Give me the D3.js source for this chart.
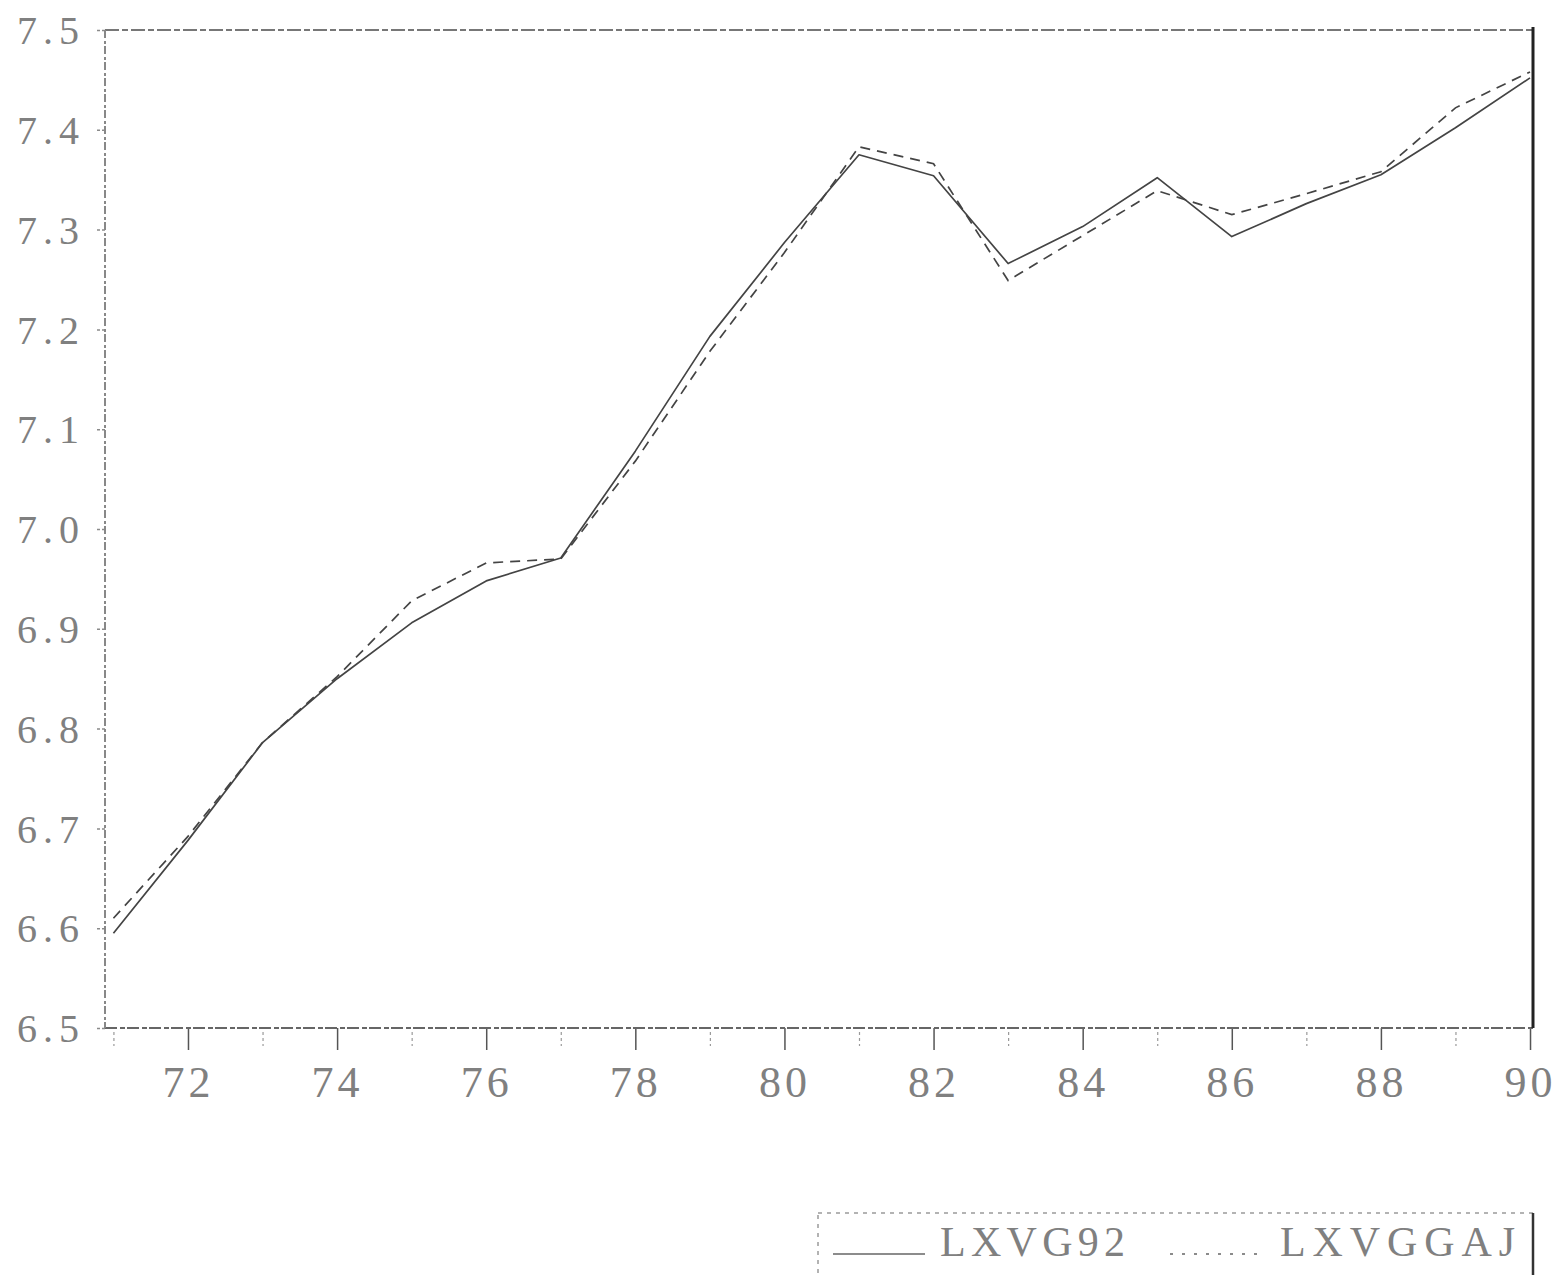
<!DOCTYPE html>
<html>
<head>
<meta charset="utf-8">
<script src="https://cdn.jsdelivr.net/npm/d3@7"></script>
<style>
  html, body { margin: 0; padding: 0; background: #fff; }
  svg { display: block; }
  text { font-family: "Liberation Serif", "DejaVu Serif", serif; fill: #808080; }
</style>
</head>
<body>
<svg id="chart" width="1560" height="1275"></svg>
<script>
// Annual observations, 1971-1990
const years = [1971, 1972, 1973, 1974, 1975, 1976, 1977, 1978, 1979, 1980,
               1981, 1982, 1983, 1984, 1985, 1986, 1987, 1988, 1989, 1990];

// LXVG92 (solid line)
const lxvg92 = [6.595, 6.688, 6.786, 6.850, 6.906, 6.948, 6.971, 7.078, 7.193, 7.287,
                7.375, 7.354, 7.266, 7.303, 7.352, 7.293, 7.326, 7.355, 7.402, 7.452];

// LXVGGAJ (dashed line)
const lxvggaj = [6.610, 6.692, 6.786, 6.852, 6.928, 6.966, 6.970, 7.068, 7.178, 7.277,
                 7.383, 7.366, 7.249, 7.294, 7.339, 7.315, 7.336, 7.358, 7.422, 7.458];

const seriesNames = ["LXVG92", "LXVGGAJ"];
const yTicks = [6.5, 6.6, 6.7, 6.8, 6.9, 7.0, 7.1, 7.2, 7.3, 7.4, 7.5];
const xMajorTicks = [1972, 1974, 1976, 1978, 1980, 1982, 1984, 1986, 1988, 1990];
const xMinorTicks = [1971, 1973, 1975, 1977, 1979, 1981, 1983, 1985, 1987, 1989];

const svg = d3.select("#chart");
const plot = { left: 105, right: 1533, top: 30, bottom: 1028 };

const x = d3.scaleLinear().domain([1970.887, 1990.04]).range([plot.left, plot.right]);
const y = d3.scaleLinear().domain([6.5, 7.5]).range([plot.bottom, plot.top]);

// Y axis: short outside ticks and labels
const yAxis = d3.axisLeft(y).tickValues(yTicks).tickSize(10).tickPadding(10)
  .tickFormat(d3.format(".1f"));
const gy = svg.append("g").attr("transform", `translate(${plot.left},0)`).call(yAxis);
gy.select(".domain").remove();
gy.selectAll(".tick line").attr("stroke", "#8a8a8a").attr("stroke-width", 1.5)
  .attr("stroke-dasharray", "3,2");
gy.selectAll(".tick text")
  .attr("font-size", 40).attr("fill", "#858585")
  .attr("font-family", "Liberation Serif, serif")
  .attr("letter-spacing", 6)
  .attr("dy", "0.34em");

// X axis: major ticks (labelled) and minor ticks
const xAxis = d3.axisBottom(x).tickValues(xMajorTicks).tickSize(22).tickPadding(16)
  .tickFormat(d => String(d % 100));
const gx = svg.append("g").attr("transform", `translate(0,${plot.bottom})`).call(xAxis);
gx.select(".domain").remove();
gx.selectAll(".tick line").attr("stroke", "#555").attr("stroke-width", 1.5);
gx.selectAll(".tick text")
  .attr("font-size", 44).attr("fill", "#858585")
  .attr("font-family", "Liberation Serif, serif")
  .attr("letter-spacing", 4);

const xMinor = d3.axisBottom(x).tickValues(xMinorTicks).tickSize(14).tickFormat("");
const gxm = svg.append("g").attr("transform", `translate(0,${plot.bottom + 4})`).call(xMinor);
gxm.select(".domain").remove();
gxm.selectAll(".tick line").attr("stroke", "#9a9a9a").attr("stroke-width", 1.2)
  .attr("stroke-dasharray", "3,3");

// Plot frame
const frame = svg.append("g");
frame.append("line").attr("x1", plot.left).attr("x2", plot.right)
  .attr("y1", plot.top).attr("y2", plot.top)
  .attr("stroke", "#777").attr("stroke-width", 2).attr("stroke-dasharray", "14,3,6,3");
frame.append("line").attr("x1", plot.left).attr("x2", plot.right)
  .attr("y1", plot.bottom).attr("y2", plot.bottom)
  .attr("stroke", "#666").attr("stroke-width", 2.2).attr("stroke-dasharray", "12,3,5,2");
frame.append("line").attr("x1", plot.left).attr("x2", plot.left)
  .attr("y1", plot.top).attr("y2", plot.bottom)
  .attr("stroke", "#888").attr("stroke-width", 2).attr("stroke-dasharray", "8,3,3,2");
frame.append("line").attr("x1", plot.right).attr("x2", plot.right)
  .attr("y1", plot.top - 3).attr("y2", plot.bottom)
  .attr("stroke", "#222").attr("stroke-width", 3);

// Series lines
const line = d3.line().x((d, i) => x(years[i])).y(d => y(d));

svg.append("path").datum(lxvg92)
  .attr("d", line).attr("fill", "none")
  .attr("stroke", "#444").attr("stroke-width", 1.7)
  .attr("stroke-linejoin", "round");

svg.append("path").datum(lxvggaj)
  .attr("d", line).attr("fill", "none")
  .attr("stroke", "#444").attr("stroke-width", 1.7)
  .attr("stroke-dasharray", "10,7");

// Legend box
const legend = svg.append("g");
legend.append("rect")
  .attr("x", 818).attr("y", 1213).attr("width", 715).attr("height", 80)
  .attr("fill", "none").attr("stroke", "#9a9a9a").attr("stroke-width", 1.5)
  .attr("stroke-dasharray", "4,5");
legend.append("line").attr("x1", 1533).attr("x2", 1533).attr("y1", 1213).attr("y2", 1275)
  .attr("stroke", "#333").attr("stroke-width", 2.5);

const legendItems = [
  { name: seriesNames[0], x1: 833, x2: 925, tx: 940, tw: 185, dash: null },
  { name: seriesNames[1], x1: 1170, x2: 1265, tx: 1280, tw: 235, dash: "3,9" }
];
legendItems.forEach(it => {
  legend.append("line")
    .attr("x1", it.x1).attr("x2", it.x2).attr("y1", 1254).attr("y2", 1254)
    .attr("stroke", "#666").attr("stroke-width", 1.5)
    .attr("stroke-dasharray", it.dash);
  legend.append("text")
    .attr("x", it.tx).attr("y", 1256)
    .attr("font-size", 42).attr("fill", "#808080")
    .attr("textLength", it.tw).attr("lengthAdjust", "spacing")
    .text(it.name);
});
</script>
</body>
</html>
